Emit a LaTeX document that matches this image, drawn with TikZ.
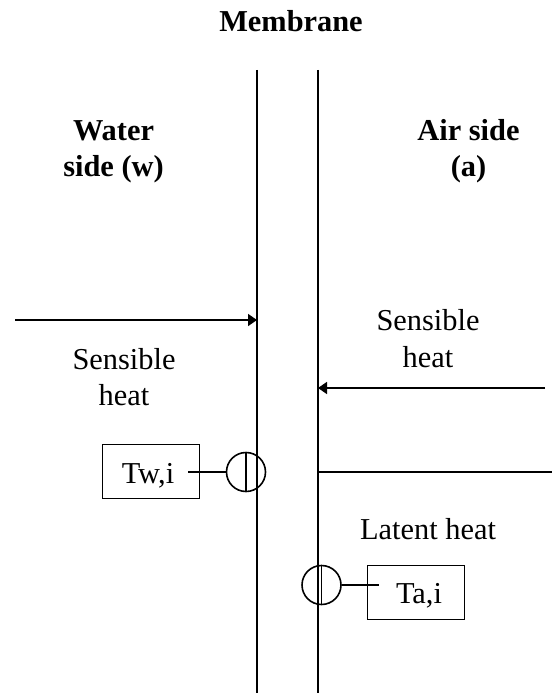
\documentclass[tikz,border=0pt]{standalone}
\usepackage{fontspec}
\setmainfont{Liberation Serif}
\usetikzlibrary{arrows.meta,calc}
\begin{document}
\begin{tikzpicture}[x=1bp,y=-1bp,
  line width=1.6bp,
  lbl/.style={font=\fontsize{30.5}{36.5}\selectfont, inner sep=0, anchor=base, align=center},
  blbl/.style={lbl, font=\fontsize{30.5}{36.5}\selectfont\bfseries},
  valbox/.style={draw, line width=1.3bp, minimum width=97bp, minimum height=54bp, inner sep=0},
  probe/.style={draw, circle, minimum size=39bp, inner sep=0, line width=1.6bp},
  flow/.style={-{Triangle[length=9bp,width=12bp]}}]
\useasboundingbox (0,0) rectangle (552,700);
% membrane
\node[blbl] (mem) at (291,32) {Membrane};
\coordinate (m1t) at (257,70);
\coordinate (m1b) at (257,693);
\coordinate (m2t) at (318,70);
\coordinate (m2b) at (318,693);
\draw (m1t) -- (m1b);
\draw (m2t) -- (m2b);
% side titles (base = last line baseline)
\node[blbl] (water) at (113.5,176.5) {Water\\side (w)};
\node[blbl] (air) at (468.5,176.5) {Air side\\(a)};
% left sensible heat
\coordinate (lsA) at (15,320);
\coordinate (lsB) at (257,320);
\draw[flow] (lsA) -- (lsB);
\node[lbl] (lsh) at (124,405.5) {Sensible\\heat};
% right sensible heat
\coordinate (rsA) at (545,388);
\coordinate (rsB) at (318,388);
\draw[flow] (rsA) -- (rsB);
\node[lbl] (rsh) at (428,367) {Sensible\\heat};
% latent heat
\coordinate (ltA) at (318,472);
\coordinate (ltB) at (552,472);
\draw (ltA) -- (ltB);
\node[lbl] (lat) at (428,539.5) {Latent heat};
% water interface temperature
\node[probe] (cw) at (246,472) {};
\draw (cw.north) -- (cw.south);
\node[valbox] (tw) at (151.3,471.3) {};
\node[lbl] (twt) at (148,483) {Tw,i};
\coordinate (twl) at (188,472);
\draw (cw.west) -- (twl);
% air interface temperature
\node[probe] (ca) at (321.5,585) {};
\draw (ca.north) -- (ca.south);
\node[valbox] (ta) at (416.2,592.5) {};
\node[lbl] (tat) at (419,603) {Ta,i};
\coordinate (tal) at (378.5,585);
\draw (ca.east) -- (tal);
\end{tikzpicture}
\end{document}
